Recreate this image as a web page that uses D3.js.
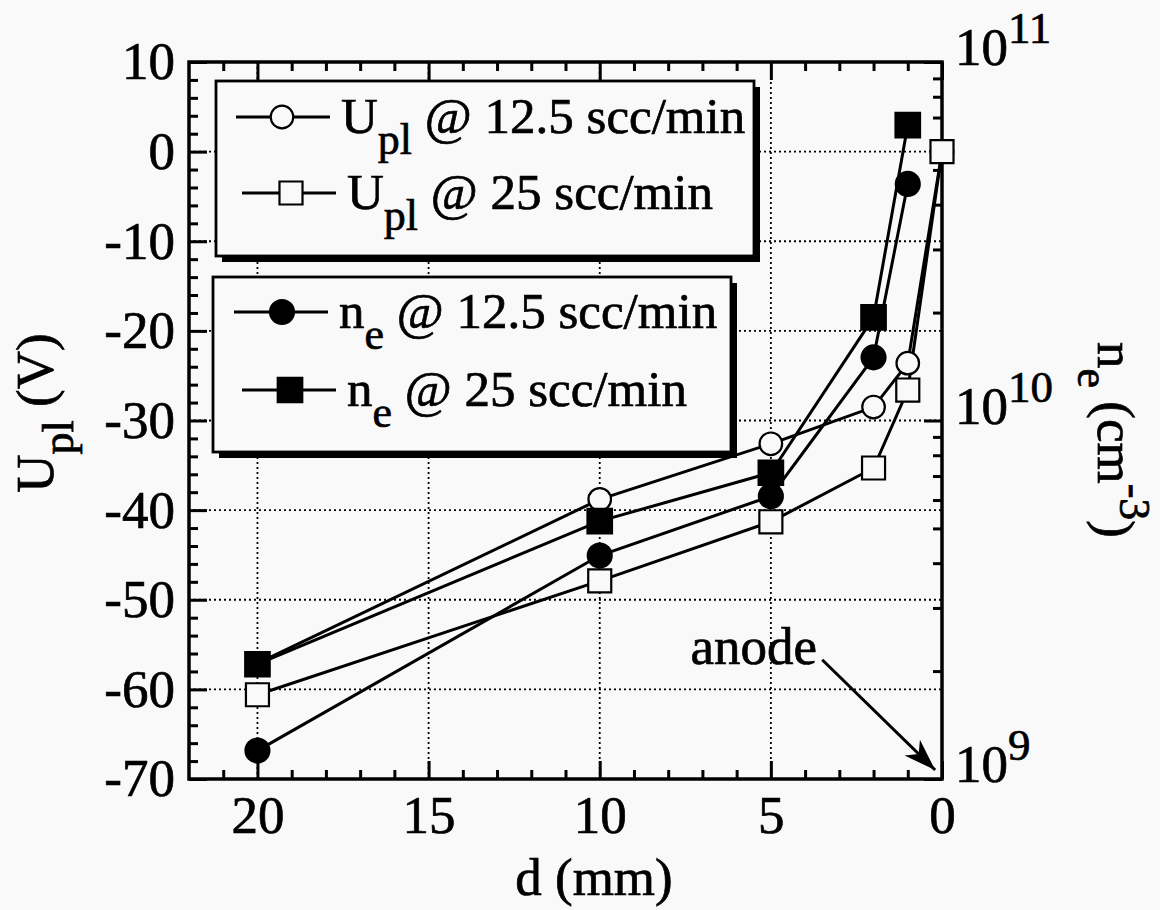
<!DOCTYPE html>
<html>
<head>
<meta charset="utf-8">
<script src="https://cdn.jsdelivr.net/npm/d3@7"></script>
<style>
  body { margin: 0; background: #f8f9f8; }
  svg text { font-family: "Liberation Serif", "Times New Roman", serif; fill: #000; stroke: #000; stroke-width: 0.7; }
  .axis line { stroke: #000; stroke-width: 3; }
  .grid { stroke: #000; stroke-width: 1.8; stroke-dasharray: 2,3; }
  .trend { fill: none; stroke: #000; stroke-width: 3; }
</style>
</head>
<body>
<svg id="chart" width="1160" height="910"></svg>
<script>
// distances (mm) and measured values
var distance = [20, 10, 5, 2, 1, 0];
var upl125 = [-57.1, -38.8, -32.6, -28.5, -23.6, 0];
var upl25 = [-60.6, -47.9, -41.3, -35.3, -26.6, 0];

var neDistance = [20, 10, 5, 2, 1];
var ne125 = [1.2e9, 4.2e9, 6.15e9, 1.5e10, 4.57e10];
var ne25 = [2.09e9, 5.24e9, 7.15e9, 1.94e10, 6.67e10];

// ticks
var xTicks = [20, 15, 10, 5, 0];
var uTicks = [10, 0, -10, -20, -30, -40, -50, -60, -70];
var neTicks = [1e9, 1e10, 1e11];
var neExp = ['9', '10', '11'];
var xGrid = [20, 15, 10, 5];
var uGrid = [0, -10, -20, -30, -40, -50, -60];

// anode annotation (d, U)
var anodeText = [3.65, -57.2];
var anodeArrow = [[3.5, -56.7], [0.2, -69.0]];

var svg1 = d3.select('#chart'),
    margin = { top: 62, right: 218, bottom: 131, left: 189 },
    width = +svg1.attr('width') - margin.left - margin.right,
    height = +svg1.attr('height') - margin.top - margin.bottom;

var g = svg1.append('g')
  .attr('transform', 'translate(' + margin.left + ',' + margin.top + ')');

var x = d3.scaleLinear().domain([22, 0]).range([0, width]),
    yU = d3.scaleLinear().domain([10, -70]).range([0, height]),
    yN = d3.scaleLog().domain([1e9, 1e11]).range([height, 0]);

var series = [
  { name: 'upl125', d: distance, v: upl125, scale: yU, symbol: d3.symbolCircle, size: 400, filled: false,
    main: 'U', sub: 'pl', rest: ' @ 12.5 scc/min' },
  { name: 'upl25', d: distance, v: upl25, scale: yU, symbol: d3.symbolSquare, size: 530, filled: false,
    main: 'U', sub: 'pl', rest: ' @ 25 scc/min' },
  { name: 'ne125', d: neDistance, v: ne125, scale: yN, symbol: d3.symbolCircle, size: 450, filled: true,
    main: 'n', sub: 'e', rest: ' @ 12.5 scc/min' },
  { name: 'ne25', d: neDistance, v: ne25, scale: yN, symbol: d3.symbolSquare, size: 600, filled: true,
    main: 'n', sub: 'e', rest: ' @ 25 scc/min' }
];
series.forEach(function(s) {
  s.points = s.d.map(function(d, i) { return [d, s.v[i]]; });
});

// grid
g.selectAll('.vgrid').data(xGrid).enter().append('line')
  .attr('class', 'grid')
  .attr('x1', function(d) { return x(d); }).attr('x2', function(d) { return x(d); })
  .attr('y1', 0).attr('y2', height);
g.selectAll('.hgrid').data(uGrid).enter().append('line')
  .attr('class', 'grid')
  .attr('y1', function(d) { return yU(d); }).attr('y2', function(d) { return yU(d); })
  .attr('x1', 0).attr('x2', width);

// axes
var xMinor = d3.range(1, 22).filter(function(d) { return d % 5 !== 0; });
var uMinor = d3.range(-68, 10, 2).filter(function(d) { return d % 10 !== 0; });
var neMinor = [];
[1e9, 1e10].forEach(function(dec) {
  for (var k = 2; k < 10; k++) neMinor.push(dec * k);
});

function noDomain(sel) { sel.select('.domain').remove(); }

g.append('g').attr('class', 'axis axis-x')
  .attr('transform', 'translate(0,' + height + ')')
  .call(d3.axisBottom(x).tickValues(xTicks).tickSize(-18).tickSizeOuter(0).tickPadding(16)
    .tickFormat(function(d) { return String(d); }))
  .call(noDomain)
  .attr('font-size', 53);
g.append('g').attr('class', 'axis')
  .attr('transform', 'translate(0,' + height + ')')
  .call(d3.axisBottom(x).tickValues(xMinor).tickSize(-9).tickSizeOuter(0).tickFormat(''))
  .call(noDomain);
g.append('g').attr('class', 'axis')
  .call(d3.axisTop(x).tickValues(xTicks).tickSize(-18).tickSizeOuter(0).tickFormat(''))
  .call(noDomain);
g.append('g').attr('class', 'axis')
  .call(d3.axisTop(x).tickValues(xMinor).tickSize(-9).tickSizeOuter(0).tickFormat(''))
  .call(noDomain);

g.append('g').attr('class', 'axis axis-y')
  .call(d3.axisLeft(yU).tickValues(uTicks).tickSize(-18).tickSizeOuter(0).tickPadding(14)
    .tickFormat(function(d) { return String(d); }))
  .call(noDomain)
  .attr('font-size', 53);
g.append('g').attr('class', 'axis')
  .call(d3.axisLeft(yU).tickValues(uMinor).tickSize(-9).tickSizeOuter(0).tickFormat(''))
  .call(noDomain);

g.append('g').attr('class', 'axis')
  .attr('transform', 'translate(' + width + ',0)')
  .call(d3.axisRight(yN).tickValues(neTicks).tickSize(-18).tickSizeOuter(0).tickFormat(''))
  .call(noDomain);
g.append('g').attr('class', 'axis')
  .attr('transform', 'translate(' + width + ',0)')
  .call(d3.axisRight(yN).tickValues(neMinor).tickSize(-9).tickSizeOuter(0).tickFormat(''))
  .call(noDomain);

// log labels with superscripts
var neLab = g.selectAll('.ne-label').data(neTicks).enter().append('text')
  .attr('class', 'ne-label')
  .attr('x', width + 13)
  .attr('y', function(d) { return yN(d) + 3; })
  .attr('font-size', 53);
neLab.append('tspan').text('10');
neLab.append('tspan').attr('font-size', 45).attr('dy', -22)
  .text(function(d, i) { return neExp[i]; });

// frame
g.append('rect')
  .attr('width', width).attr('height', height)
  .attr('fill', 'none').attr('stroke', '#000').attr('stroke-width', 3.5);

// axis titles
var lt = svg1.append('text')
  .attr('transform', 'translate(53,413) rotate(-90)')
  .attr('text-anchor', 'middle').attr('font-size', 53);
lt.append('tspan').text('U');
lt.append('tspan').attr('font-size', 44).attr('dy', 20).text('pl');
lt.append('tspan').attr('dy', -20).text(' (V)');

var rt = svg1.append('text')
  .attr('transform', 'translate(1098,440) rotate(90)')
  .attr('text-anchor', 'middle').attr('font-size', 53);
rt.append('tspan').text('n');
rt.append('tspan').attr('font-size', 44).attr('dy', 20).text('e');
rt.append('tspan').attr('dy', -20).text(' (cm');
rt.append('tspan').attr('font-size', 44).attr('dy', -22).text('-3');
rt.append('tspan').attr('dy', 22).text(')');

svg1.append('text')
  .attr('x', 594).attr('y', 895)
  .attr('text-anchor', 'middle').attr('font-size', 53)
  .text('d (mm)');

// lines
var line = d3.line();
g.selectAll('.trend').data(series).enter().append('path')
  .attr('class', 'trend')
  .attr('d', function(s) {
    return line(s.points.map(function(p) { return [x(p[0]), s.scale(p[1])]; }));
  });

// markers: open first, filled on top
var ordered = series.filter(function(s) { return !s.filled; })
  .concat(series.filter(function(s) { return s.filled; }));
ordered.forEach(function(s) {
  g.selectAll('.pt-' + s.name).data(s.points).enter().append('path')
    .attr('class', 'pt-' + s.name)
    .attr('transform', function(p) { return 'translate(' + x(p[0]) + ',' + s.scale(p[1]) + ')'; })
    .attr('d', d3.symbol().type(s.symbol).size(s.size))
    .attr('fill', s.filled ? '#000' : '#f8f9f8')
    .attr('stroke', '#000')
    .attr('stroke-width', 2.2);
});

// legends
var boxes = [
  { x: 216, y: 81, w: 538, h: 175, items: [
    { s: series[0], y: 117, lx: 236, mx: 282, tx: 341 },
    { s: series[1], y: 193, lx: 242, mx: 291, tx: 347 } ] },
  { x: 213, y: 277, w: 518, h: 175, items: [
    { s: series[2], y: 312, lx: 234, mx: 282, tx: 339 },
    { s: series[3], y: 390, lx: 242, mx: 290, tx: 347 } ] }
];
boxes.forEach(function(b) {
  svg1.append('rect')
    .attr('x', b.x + 6).attr('y', b.y + 6).attr('width', b.w).attr('height', b.h)
    .attr('fill', '#000');
  svg1.append('rect')
    .attr('x', b.x).attr('y', b.y).attr('width', b.w).attr('height', b.h)
    .attr('fill', '#f8f9f8').attr('stroke', '#000').attr('stroke-width', 2.8);
  b.items.forEach(function(it) {
    svg1.append('line')
      .attr('x1', it.lx).attr('x2', it.lx + 94).attr('y1', it.y).attr('y2', it.y)
      .attr('stroke', '#000').attr('stroke-width', 3);
    svg1.append('path')
      .attr('transform', 'translate(' + it.mx + ',' + it.y + ')')
      .attr('d', d3.symbol().type(it.s.symbol).size(it.s.size))
      .attr('fill', it.s.filled ? '#000' : '#f8f9f8')
      .attr('stroke', '#000').attr('stroke-width', 2.2);
    var t = svg1.append('text')
      .attr('x', it.tx).attr('y', it.y + 16).attr('font-size', 51);
    t.append('tspan').text(it.s.main);
    t.append('tspan').attr('font-size', 44).attr('dy', 21).text(it.s.sub);
    t.append('tspan').attr('dy', -21).text(it.s.rest);
  });
});

// anode annotation
svg1.append('defs').append('marker')
  .attr('id', 'head')
  .attr('viewBox', '-34 -12 36 24')
  .attr('refX', 0).attr('refY', 0)
  .attr('markerWidth', 36).attr('markerHeight', 24)
  .attr('markerUnits', 'userSpaceOnUse')
  .attr('orient', 'auto')
  .append('path')
  .attr('d', 'M0,0 L-32,-11 L-23,0 L-32,11 Z')
  .attr('fill', '#000');

g.append('line')
  .attr('x1', x(anodeArrow[0][0])).attr('y1', yU(anodeArrow[0][1]))
  .attr('x2', x(anodeArrow[1][0])).attr('y2', yU(anodeArrow[1][1]))
  .attr('stroke', '#000').attr('stroke-width', 3)
  .attr('marker-end', 'url(#head)');

g.append('text')
  .attr('x', x(anodeText[0])).attr('y', yU(anodeText[1]))
  .attr('text-anchor', 'end').attr('font-size', 53)
  .text('anode');
</script>
</body>
</html>
